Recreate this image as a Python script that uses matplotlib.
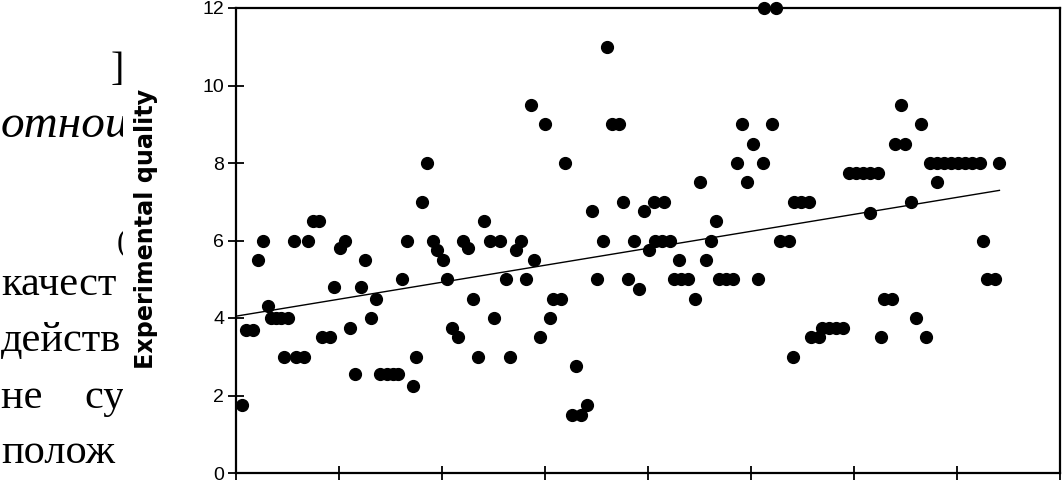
import numpy as np
import matplotlib.pyplot as plt

# sample position along the horizontal axis and the measured quality
sample_x = [1.4, 2.4, 4.1, 5.3, 6.6, 7.7, 8.5, 9.7, 10.9, 12.6, 11.7, 14.1, 14.6, 16.5,
            17.4, 18.7, 20.1, 20.9, 22.8, 23.9, 25.2, 26.5, 27.7, 28.9, 30.3, 31.3,
            32.7, 33.9, 35.0, 36.7, 38.1, 39.3, 40.4, 41.6, 43.0, 43.7, 45.1, 46.4,
            47.7, 48.9, 50.2, 51.3, 52.5, 53.8, 55.2, 56.4, 57.6, 58.8, 60.2, 61.7,
            62.7, 64.1, 65.5, 66.5, 67.9, 69.2, 70.4, 71.6, 72.3, 73.8, 75.0, 76.2,
            76.9, 78.9, 79.9, 81.6, 82.5, 83.7, 85.1, 86.5, 87.7, 89.0, 90.0, 91.3,
            93.0, 94.0, 95.2, 96.6, 97.8, 99.1, 100.3, 101.5, 101.7, 103.4, 104.0,
            105.3, 106.3, 107.5, 108.0, 109.7, 111.4, 112.6, 114.0, 115.3, 116.5,
            117.2, 118.9, 120.6, 121.7, 122.7, 124.1, 125.4, 126.6, 127.8, 128.2,
            130.0, 131.0, 132.0, 134.2, 135.1, 135.4, 137.1, 139.0, 139.6, 141.5,
            142.2, 143.9, 145.6, 147.3, 148.8, 150.5, 152.2, 153.9, 154.0, 155.8,
            156.5, 157.3, 159.2, 159.9, 161.4, 162.4, 163.8, 165.0, 166.3, 167.5,
            168.4, 170.1, 171.8, 173.5, 175.2, 176.9, 178.6, 180.6, 170.1, 181.4,
            182.3, 184.2, 185.3]
quality = [1.75, 3.7, 3.7, 5.5, 6.0, 4.3, 4.0, 4.0, 4.0, 4.0, 3.0, 6.0, 3.0, 3.0,
           6.0, 6.5, 6.5, 3.5, 3.5, 4.8, 5.8, 6.0, 3.75, 2.55, 4.8, 5.5,
           4.0, 4.5, 2.55, 2.55, 2.55, 2.55, 5.0, 6.0, 2.25, 3.0, 7.0, 8.0,
           6.0, 5.75, 5.5, 5.0, 3.75, 3.5, 6.0, 5.8, 4.5, 3.0, 6.5, 6.0,
           4.0, 6.0, 5.0, 3.0, 5.75, 6.0, 5.0, 9.5, 5.5, 3.5, 9.0, 4.0,
           4.5, 4.5, 8.0, 1.5, 2.75, 1.5, 1.75, 6.75, 5.0, 6.0, 11.0, 9.0,
           9.0, 7.0, 5.0, 6.0, 4.75, 6.75, 5.75, 7.0, 6.0, 6.0, 7.0,
           6.0, 5.0, 5.5, 5.0, 5.0, 4.5, 7.5, 5.5, 6.0, 6.5,
           5.0, 5.0, 5.0, 8.0, 9.0, 7.5, 8.5, 5.0, 8.0, 12.0,
           9.0, 12.0, 6.0, 6.0, 3.0, 7.0, 7.0, 7.0, 3.5, 3.5,
           3.75, 3.75, 3.75, 3.75, 7.75, 7.75, 7.75, 7.75, 6.7, 7.75,
           3.5, 4.5, 4.5, 8.5, 9.5, 8.5, 7.0, 4.0, 9.0, 3.5,
           8.0, 8.0, 8.0, 8.0, 8.0, 8.0, 8.0, 8.0, 7.5, 6.0,
           5.0, 5.0, 8.0]

y_ticks = [0, 2, 4, 6, 8, 10, 12]
x_ticks = [0, 25, 50, 75, 100, 125, 150, 175, 200]

# cut-off body text of the scanned page on the left
page_lines = ['качест', 'действ', 'не    су', 'полож']

fig = plt.figure(figsize=(10.62, 4.87), dpi=100)

# left strip with the page text, in pixel coordinates, clipped at its right edge
tx = fig.add_axes([0, 0, 123/1062, 1])
tx.set_xlim(0, 123)
tx.set_ylim(487, 0)
tx.axis('off')
serif = 'Liberation Serif'
tx.text(124, 80, ']', family=serif, fontsize=29, ha='right', va='baseline', clip_on=True)
tx.text(1, 137, 'отнош', family=serif, style='italic', fontsize=34,
        va='baseline', clip_on=True)
tx.text(117, 250, '(', family=serif, fontsize=22, va='baseline', clip_on=True)
for s, yb in zip(page_lines, [295, 351, 408, 463]):
    tx.text(1, yb, s, family=serif, fontsize=30.5, va='baseline', clip_on=True)

ax = fig.add_axes([236/1062, 1 - 473/487, 824/1062, 465/487])
x = np.array(sample_x)
y = np.array(quality)
ax.plot(x, y, 'o', color='black', ms=8.5, mec='black', clip_on=False, zorder=3)

# linear trend over the data range
k, b = np.polyfit(x, y, 1)
xl = np.array([0, x.max()])
ax.plot(xl, k*xl + b, color='black', lw=1.0)

ax.set_xlim(0, 200)
ax.set_ylim(0, 12)
ax.set_yticks(y_ticks)
ax.set_xticks(x_ticks)
ax.set_xticklabels([])
ax.tick_params(axis='y', direction='inout', length=11, width=1.3, pad=3,
               labelsize=14, labelfontfamily='Liberation Sans')
ax.tick_params(axis='x', direction='inout', length=10, width=1.3)
for sp in ax.spines.values():
    sp.set_linewidth(1.6)

fig.text(146/1062, 1 - 229/487, 'Experimental quality', rotation=90,
         ha='center', va='center', fontsize=17.2, fontweight='bold',
         family='DejaVu Sans')

plt.savefig('out.png', dpi=100)
